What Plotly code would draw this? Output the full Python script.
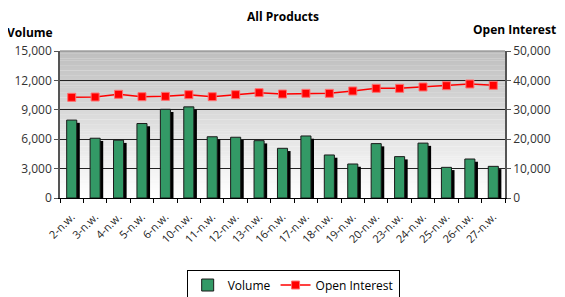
import plotly.graph_objects as go

weeks = ["2-n.w.", "3-n.w.", "4-n.w.", "5-n.w.", "6-n.w.", "10-n.w.", "11-n.w.", "12-n.w.",
         "13-n.w.", "16-n.w.", "17-n.w.", "18-n.w.", "19-n.w.", "20-n.w.", "23-n.w.", "24-n.w.",
         "25-n.w.", "26-n.w.", "27-n.w."]
volume = [7950, 6100, 5900, 7600, 9050, 9300, 6250, 6200, 5850, 5070, 6330, 4390, 3470,
          5550, 4220, 5600, 3130, 3980, 3230]
open_interest = [34250, 34350, 35270, 34460, 34580, 35150, 34460, 35150, 35820, 35370, 35600,
                 35600, 36400, 37300, 37300, 37760, 38200, 38780, 38320]

FONT = "Open Sans"
fig = go.Figure()

# shadow bars
fig.add_trace(go.Bar(x=weeks, y=volume, base=-280, width=0.43, offset=-0.215 + 0.13,
                     marker=dict(color="black", line=dict(width=0)),
                     showlegend=False, hoverinfo="skip"))
fig.add_trace(go.Bar(x=weeks, y=volume, name="Volume", width=0.43, offset=-0.215,
                     marker=dict(color="#339966", line=dict(color="#1a1a1a", width=1))))
fig.add_trace(go.Scatter(x=weeks, y=open_interest, name="Open Interest", yaxis="y2",
                         mode="lines+markers",
                         line=dict(color="#ff0000", width=1.5),
                         marker=dict(symbol="square", size=8, color="#ff0000",
                                     line=dict(color="#ff7070", width=1))))

# gradient background
n = 60
shapes = []
for i in range(n):
    t = i / (n - 1)
    c = int(round(0xbf + (0xff - 0xbf) * (1 - t)))
    shapes.append(dict(type="rect", xref="x domain", yref="y domain",
                       x0=0, x1=1, y0=i / n, y1=(i + 1) / n + 0.001,
                       fillcolor=f"rgb({c},{c},{c})", line=dict(width=0), layer="below"))
shapes.append(dict(type="line", xref="x domain", yref="y domain", x0=0, x1=1, y0=1, y1=1,
                   line=dict(color="#808080", width=1)))

# the page body adds an 8px offset, so the figure is 8px smaller
fig.update_layout(
    width=557, height=289,
    margin=dict(l=52, r=60, t=43, b=99, autoexpand=False),
    paper_bgcolor="white", plot_bgcolor="rgba(0,0,0,0)",
    barmode="overlay", bargap=0.5,
    font=dict(family=FONT, size=12, color="black"),
    shapes=shapes,
    xaxis=dict(type="category", tickangle=-45, tickfont=dict(size=11, color="#222222"),
               ticks="outside", ticklen=4, tickcolor="black", tickson="boundaries",
               ticklabelstandoff=7,
               showline=True, linecolor="black", linewidth=1, showgrid=False,
               range=[-0.5, len(weeks) - 0.5], automargin=False),
    yaxis=dict(range=[0, 15000], dtick=3000, tickformat=",d", showgrid=True,
               gridcolor="#222222", gridwidth=1, showline=True, linecolor="#555555",
               linewidth=1.5, ticks="outside", ticklen=4, tickcolor="#555555",
               tickfont=dict(size=12, color="#333333"), zeroline=False, automargin=False),
    yaxis2=dict(range=[0, 50000], dtick=10000, tickformat=",d", overlaying="y", side="right",
                showgrid=False, showline=True, linecolor="#555555", linewidth=1.5,
                ticks="outside", ticklen=4, tickcolor="#555555",
                tickfont=dict(size=12, color="#333333"),
                zeroline=False, automargin=False),
    legend=dict(orientation="h", x=0.524, xanchor="center", y=-0.592, yanchor="middle",
                bordercolor="black", borderwidth=1, bgcolor="white",
                font=dict(size=12), itemwidth=30, tracegroupgap=0),
    annotations=[
        dict(text="<b>All Products</b>", x=0.5, xref="paper", y=1.238, yref="paper",
             showarrow=False, font=dict(size=12), xanchor="center", yanchor="middle"),
        dict(text="<b>Volume</b>", x=(5 - 60) / 445, xref="paper", y=1.129, yref="paper",
             showarrow=False, font=dict(size=12), xanchor="left", yanchor="middle"),
        dict(text="<b>Open Interest</b>", x=(558 - 60) / 445, xref="paper", y=1.143,
             yref="paper", showarrow=False, font=dict(size=12), xanchor="right",
             yanchor="middle"),
    ],
)

fig.write_html("out.html")
